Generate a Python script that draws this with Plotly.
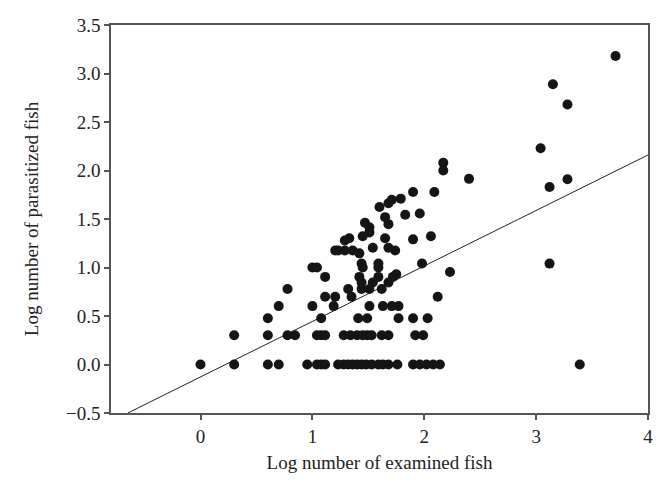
import plotly.graph_objects as go

# Scatter data: log number of examined fish (x) vs log number of parasitized fish (y)
x_vals = [
    0.0, 0.301, 0.301, 0.602, 0.602, 0.602, 0.699, 0.699, 0.778, 0.778, 0.845,
    0.954, 1.0, 1.0, 1.041, 1.041, 1.079, 1.114, 1.041, 1.079, 1.114, 1.079,
    1.114, 1.114, 1.204, 1.204, 1.19,
    # y = 0 row
    1.23, 1.28, 1.32, 1.36, 1.40, 1.44, 1.48, 1.53, 1.59, 1.63, 1.68, 1.76,
    1.90, 1.96, 2.02, 2.08, 2.14,
    # y = 0.301 row
    1.28, 1.34, 1.40, 1.45, 1.49, 1.53, 1.62, 1.68, 1.92, 1.99,
    # y = 0.477 row
    1.41, 1.49, 1.77, 1.90, 2.03,
    # y = 0.602 row
    1.51, 1.63, 1.71, 1.77,
    # middle cluster
    2.12, 1.35, 1.44, 1.51, 1.62, 1.32, 1.44, 1.54, 1.68,
    1.42, 1.59, 1.72, 1.75,
    1.44, 1.45, 1.59, 1.59, 1.98, 2.23,
    1.23, 1.29, 1.36, 1.42, 1.54, 1.68, 1.74,
    1.29, 1.33, 1.45, 1.51, 1.65, 1.90, 2.06,
    1.47, 1.51, 1.68, 1.65,
    1.83, 1.96, 1.60, 1.68, 1.71, 1.79,
    1.90, 2.09, 2.17, 2.17, 2.40,
    # right side
    3.04, 3.12, 3.15, 3.28, 3.28, 3.12, 3.39, 3.71,
]
y_vals = [
    0.0, 0.301, 0.0, 0.477, 0.301, 0.0, 0.602, 0.0, 0.778, 0.301, 0.301,
    0.0, 0.602, 1.0, 1.0, 0.0, 0.0, 0.0, 0.301, 0.301, 0.301, 0.477,
    0.903, 0.699, 1.176, 0.699, 0.602,
    0.0, 0.0, 0.0, 0.0, 0.0, 0.0, 0.0, 0.0, 0.0, 0.0, 0.0, 0.0,
    0.0, 0.0, 0.0, 0.0, 0.0,
    0.301, 0.301, 0.301, 0.301, 0.301, 0.301, 0.301, 0.301, 0.301, 0.301,
    0.477, 0.477, 0.477, 0.477, 0.477,
    0.602, 0.602, 0.602, 0.602,
    0.699, 0.699, 0.778, 0.778, 0.778, 0.778, 0.845, 0.845, 0.845,
    0.903, 0.903, 0.903, 0.93,
    1.041, 1.0, 1.041, 1.0, 1.041, 0.954,
    1.176, 1.176, 1.176, 1.146, 1.204, 1.204, 1.176,
    1.279, 1.301, 1.322, 1.362, 1.301, 1.29, 1.322,
    1.462, 1.415, 1.447, 1.519,
    1.544, 1.556, 1.623, 1.663, 1.699, 1.71,
    1.778, 1.778, 2.079, 2.0, 1.914,
    2.23, 1.83, 2.89, 2.68, 1.91, 1.04, 0.0, 3.18,
]

# Regression line endpoints
fit_x = [-0.65, 4.0]
fit_y = [-0.5, 2.16]

x_ticks = [0, 1, 2, 3, 4]
y_ticks = [-0.5, 0.0, 0.5, 1.0, 1.5, 2.0, 2.5, 3.0, 3.5]

font_family = "Liberation Serif, Times New Roman, serif"

fig = go.Figure()
fig.add_trace(go.Scatter(
    x=fit_x, y=fit_y, mode="lines",
    line=dict(color="#222222", width=1),
    showlegend=False, hoverinfo="skip",
))
fig.add_trace(go.Scatter(
    x=x_vals, y=y_vals, mode="markers",
    marker=dict(color="#151515", size=10, line=dict(width=0)),
    showlegend=False,
))

axis_common = dict(
    showgrid=False, zeroline=False, showline=True, linecolor="#555555",
    linewidth=1.5, mirror=True, ticks="outside", ticklen=5, tickwidth=1.5,
    tickcolor="#555555", ticklabeloverflow="allow",
    tickfont=dict(family=font_family, size=19, color="#222222"),
)

fig.update_layout(
    width=670, height=486,
    margin=dict(l=103, r=30, t=7, b=81),
    paper_bgcolor="white", plot_bgcolor="white",
    font=dict(family=font_family, color="#222222"),
    xaxis=dict(
        range=[-0.8, 4.0], tickvals=x_ticks,
        title=dict(text="Log number of examined fish",
                   font=dict(family=font_family, size=19, color="#222222"),
                   standoff=10),
        **axis_common,
    ),
    yaxis=dict(
        range=[-0.5, 3.5], tickvals=y_ticks, tickformat=".1f",
        title=dict(text="Log number of parasitized fish",
                   font=dict(family=font_family, size=19, color="#222222"),
                   standoff=22),
        **axis_common,
    ),
)

fig.write_html("out.html")
